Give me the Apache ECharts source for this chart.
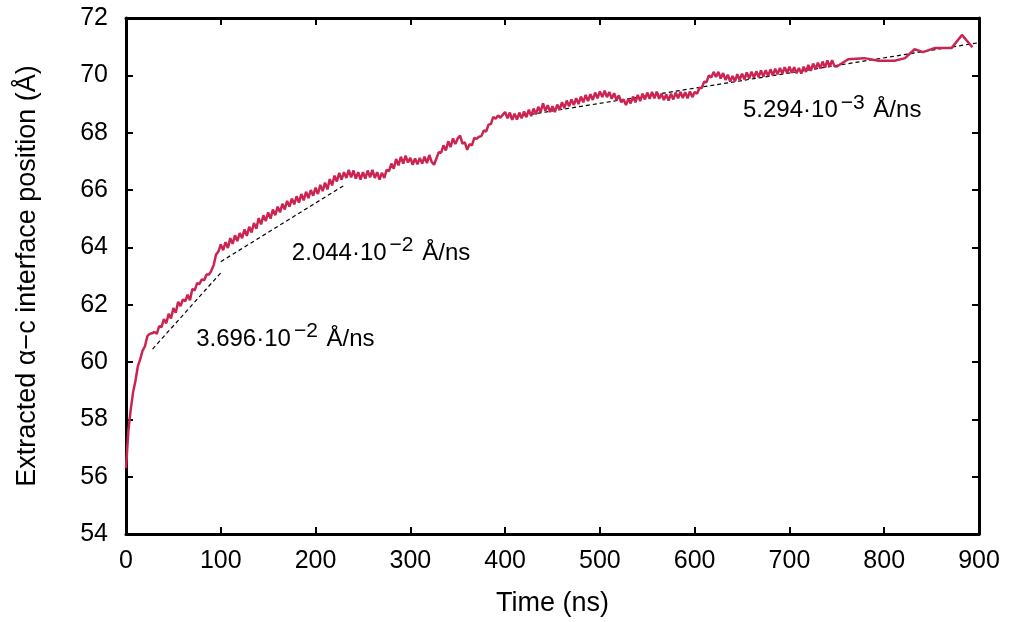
<!DOCTYPE html>
<html>
<head>
<meta charset="utf-8">
<script src="https://cdn.jsdelivr.net/npm/echarts@6/dist/echarts.min.js"></script>
<style>html,body{margin:0;padding:0;background:#fff;}#c{width:1009px;height:622px;}</style>
</head>
<body>
<div id="c"></div>
<script>
// Dense part of the trace: sampled every 2.5 ns starting at 0 ns
const denseStart = 0;
const denseStep = 2.5;
const denseValues = [
  56.3, 57.6, 58.35, 58.95, 59.35, 59.85, 60.1, 60.4, 60.55, 60.9,
  60.98, 61.0, 61.05, 60.98, 61.25, 61.22, 61.5, 61.35, 61.68, 61.52,
  61.88, 61.72, 62.1, 61.95, 62.18, 62.12, 62.35, 62.15, 62.55, 62.5,
  62.75, 62.72, 62.88, 62.85, 63.05, 63.05, 63.18, 63.38, 63.75, 63.85,
  64.1, 63.9, 64.18, 63.98, 64.32, 64.12, 64.42, 64.22, 64.5, 64.32,
  64.62, 64.4, 64.72, 64.52, 64.85, 64.65, 65.02, 64.8, 65.12, 64.92,
  65.22, 65.0, 65.32, 65.12, 65.42, 65.22, 65.52, 65.32, 65.62, 65.42,
  65.7, 65.5, 65.78, 65.56, 65.86, 65.64, 65.94, 65.72, 66.0, 65.8,
  66.08, 65.86, 66.18, 65.96, 66.26, 66.02, 66.38, 66.16, 66.5, 66.3,
  66.6, 66.36, 66.62, 66.42, 66.7, 66.44, 66.68, 66.4, 66.62, 66.36,
  66.62, 66.4, 66.68, 66.44, 66.7, 66.42, 66.62, 66.36, 66.6, 66.42,
  66.7, 66.66, 66.92, 66.74, 67.08, 66.86, 67.16, 66.92, 67.2, 66.96,
  67.12, 66.88, 67.1, 66.9, 67.12, 66.92, 67.16, 66.94, 67.22, 66.98,
  66.88, 67.1, 67.32, 67.3, 67.56, 67.38, 67.7, 67.5, 67.8, 67.6,
  67.8, 67.9, 67.62, 67.66, 67.4, 67.6, 67.56, 67.82, 67.78, 67.86,
  67.88, 68.08, 68.04, 68.28, 68.3, 68.55, 68.48, 68.6, 68.52, 68.62,
  68.72, 68.5, 68.7, 68.45, 68.66, 68.46, 68.7, 68.5, 68.74, 68.54,
  68.8, 68.58, 68.84, 68.64, 68.9, 68.72, 69.02, 68.76, 68.96, 68.72,
  68.92, 68.72, 68.98, 68.8, 69.06, 68.86, 69.12, 68.92, 69.16, 68.96,
  69.2, 69.0, 69.26, 69.06, 69.32, 69.1, 69.34, 69.14, 69.4, 69.2,
  69.44, 69.24, 69.46, 69.24, 69.42, 69.18, 69.38, 69.14, 69.3, 69.06,
  69.16, 68.96, 69.18, 69.02, 69.26, 69.06, 69.32, 69.1, 69.36, 69.16,
  69.4, 69.18, 69.42, 69.2, 69.43, 69.18, 69.36, 69.14, 69.33, 69.12,
  69.36, 69.16, 69.4, 69.2, 69.42, 69.21, 69.41, 69.2, 69.44, 69.24,
  69.42, 69.36, 69.56, 69.56, 69.78, 69.76, 70.0, 69.92, 70.12, 69.94,
  70.12, 69.89, 70.08, 69.84, 70.02, 69.78, 69.98, 69.79, 70.04, 69.84,
  70.06, 69.86, 70.1, 69.89, 70.13, 69.92, 70.14, 69.94, 70.17, 69.96,
  70.18, 69.98, 70.21, 70.0, 70.23, 70.04, 70.26, 70.06, 70.28, 70.08,
  70.3, 70.09, 70.28, 70.07, 70.26, 70.06, 70.3, 70.12, 70.36, 70.16,
  70.41, 70.21, 70.44, 70.24, 70.48, 70.27, 70.52, 70.3, 70.53, 70.32
];
// Sparse tail of the trace
const tailTimes = [750, 762, 779, 794, 811, 822, 832, 841, 853, 871, 882, 893];
const tailValues = [70.31, 70.56, 70.6, 70.51, 70.51, 70.6, 70.91, 70.81, 70.95, 70.95, 71.41, 70.98];

// Linear fits (dashed)
const fit1Times = [28, 100];
const fit1Values = [60.45, 63.11];
const fit2Times = [100, 230];
const fit2Values = [63.5, 66.16];
const fit3Times = [405, 900];
const fit3Values = [68.52, 71.14];

// Annotations (anchor at left edge of text)
const annotTimes = [74, 175, 651];
const annotValues = [60.9, 63.9, 68.87];
const annotMantissa = ['3.696', '2.044', '5.294'];
const annotExponent = ['\u22122', '\u22122', '\u22123'];

// Axis ticks
const xMin = 0, xMax = 900, xStep = 100;
const yMin = 54, yMax = 72, yStep = 2;

const FONT = '"Liberation Sans", Arial, sans-serif';

const trace = [];
denseValues.forEach((v, i) => trace.push([denseStart + i * denseStep, v]));
tailTimes.forEach((t, i) => trace.push([t, tailValues[i]]));

const pairs = (ts, vs) => ts.map((t, i) => [t, vs[i]]);
const annotData = annotTimes.map((t, i) => ({
  value: [t, annotValues[i]],
  label: {
    formatter: '{b|' + annotMantissa[i] + '\u00b710}{s|' + annotExponent[i] + '}{b| \u00c5/ns}'
  }
}));

const dashStyle = {color: '#000', width: 1.2, type: [4, 3]};

const chart = echarts.init(document.getElementById('c'), null, {renderer: 'canvas'});
chart.setOption({
  animation: false,
  backgroundColor: '#fff',
  grid: {left: 126, right: 30, top: 18, bottom: 88, containLabel: false},
  xAxis: [{
    type: 'value', min: xMin, max: xMax, interval: xStep, position: 'bottom',
    name: 'Time (ns)', nameLocation: 'middle', nameGap: 56,
    nameTextStyle: {fontFamily: FONT, fontSize: 27, color: '#000'},
    axisLine: {show: true, onZero: false, lineStyle: {color: '#000', width: 3}},
    axisTick: {show: true, inside: true, length: 7, lineStyle: {color: '#000', width: 2}},
    axisLabel: {fontFamily: FONT, fontSize: 25, color: '#000', margin: 15},
    splitLine: {show: false}
  }, {
    type: 'value', min: xMin, max: xMax, interval: xStep, position: 'top',
    axisLine: {show: true, onZero: false, lineStyle: {color: '#000', width: 3}},
    axisTick: {show: true, inside: true, length: 7, lineStyle: {color: '#000', width: 2}},
    axisLabel: {show: false}, splitLine: {show: false}
  }],
  yAxis: [{
    type: 'value', min: yMin, max: yMax, interval: yStep, position: 'left',
    name: 'Extracted \u03b1\u2212c interface position (\u00c5)', nameLocation: 'middle', nameGap: 85,
    nameTextStyle: {fontFamily: FONT, fontSize: 27, color: '#000'},
    axisLine: {show: true, onZero: false, lineStyle: {color: '#000', width: 3}},
    axisTick: {show: true, inside: true, length: 7, lineStyle: {color: '#000', width: 2}},
    axisLabel: {fontFamily: FONT, fontSize: 25, color: '#000', margin: 18},
    splitLine: {show: false}
  }, {
    type: 'value', min: yMin, max: yMax, interval: yStep, position: 'right',
    axisLine: {show: true, onZero: false, lineStyle: {color: '#000', width: 3}},
    axisTick: {show: true, inside: true, length: 7, lineStyle: {color: '#000', width: 2}},
    axisLabel: {show: false}, splitLine: {show: false}
  }],
  series: [
    {type: 'line', data: pairs(fit1Times, fit1Values), showSymbol: false, lineStyle: dashStyle, z: 3, silent: true},
    {type: 'line', data: pairs(fit2Times, fit2Values), showSymbol: false, lineStyle: dashStyle, z: 3, silent: true},
    {type: 'line', data: pairs(fit3Times, fit3Values), showSymbol: false, lineStyle: dashStyle, z: 3, silent: true},
    {type: 'line', data: trace, showSymbol: false, lineStyle: {color: '#cc2452', width: 2.5}, z: 4, silent: true},
    {
      type: 'scatter', data: annotData, symbolSize: 0, silent: true, z: 5,
      itemStyle: {opacity: 1},
      label: {
        show: true, position: 'right', distance: 0, color: '#000', opacity: 1,
        rich: {
          b: {fontFamily: FONT, fontSize: 24, color: '#000', lineHeight: 30, verticalAlign: 'bottom'},
          s: {fontFamily: FONT, fontSize: 21, color: '#000', lineHeight: 18, verticalAlign: 'top', padding: [0, 2, 0, 3]}
        }
      }
    }
  ]
});
</script>
</body>
</html>
